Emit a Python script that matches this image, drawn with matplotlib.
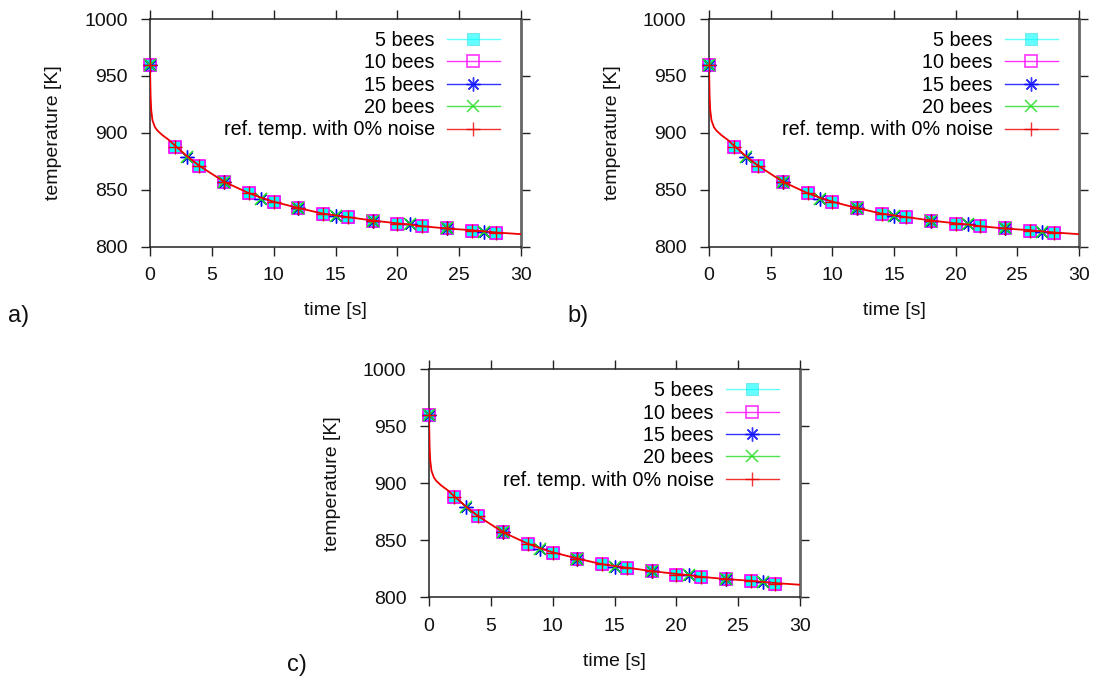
import matplotlib
matplotlib.use("Agg")
import matplotlib.pyplot as plt
from matplotlib.lines import Line2D

plt.rcParams['font.family'] = ['Liberation Sans', 'DejaVu Sans']

# ---- data ----
t_even = [0, 2, 4, 6, 8, 10, 12, 14, 16, 18, 20, 22, 24, 26, 28]
T_even = [960, 888, 871, 857, 847, 839, 834, 829, 826, 823, 820, 818, 816, 814, 812]

t_three = [0, 3, 6, 9, 12, 15, 18, 21, 24, 27]
T_three = [960, 879, 857, 842, 834, 827, 823, 819.5, 816, 813]

bees5_t, bees5_T = t_even, T_even
bees10_t, bees10_T = t_even, T_even
bees15_t, bees15_T = t_three, T_three
bees20_t, bees20_T = t_three, T_three
ref_mark_t, ref_mark_T = t_even, T_even

ref_t = [0, 0.02, 0.05, 0.1, 0.2, 0.4, 0.6, 1.0, 1.5, 2, 3, 4, 5, 6, 7, 8, 9, 10,
         12, 14, 15, 16, 18, 20, 21, 22, 24, 26, 27, 28, 30]
ref_T = [960, 948, 932, 920, 911, 905, 902, 898, 894, 889, 879.5, 871, 864, 857,
         852, 847, 843, 839.5, 834, 829, 827.5, 826, 823, 820.5, 819.5, 818, 816,
         814.5, 813.5, 812.5, 811]

labels = ["5 bees", "10 bees", "15 bees", "20 bees", "ref. temp. with 0% noise"]
panel_tags = ["a)", "b)", "c)"]
xticks = [0, 5, 10, 15, 20, 25, 30]
yticks = [800, 850, 900, 950, 1000]

# ---- styles ----
c5, c10, c15, c20, cref = '#00ffff', '#ff00ff', '#0000ff', '#22dd22', '#ee0000'
st5 = dict(marker='s', ms=8.0, mfc=c5, mec='#44dddd', mew=0.8)
st10 = dict(marker='s', ms=8.8, mfc='none', mec=c10, mew=1.2)
st15 = dict(marker=(8, 2, 0), ms=10, mec=c15, mew=1.0)
st20 = dict(marker='x', ms=8, mec=c20, mew=1.2)
stref = dict(marker='+', ms=10, mec=cref, mew=1.0)

W, H = 1099, 682
fig = plt.figure(figsize=(W / 100, H / 100), dpi=100)

panels = [  # left, right, top, bottom in pixels
    (150, 521, 19, 246.7),
    (709, 1079, 19, 246.7),
    (429, 800, 369.3, 597.3),
]
tag_pos = [(8, 316), (567, 316), (287, 665)]

for (l, r, tp, bt), tag, (tx, ty) in zip(panels, panel_tags, tag_pos):
    w, h = r - l, bt - tp
    ax = fig.add_axes([l / W, (H - bt) / H, w / W, h / H])
    ax.plot(bees5_t, bees5_T, ls='none', **st5, zorder=3, clip_on=False)
    ax.plot(bees10_t, bees10_T, ls='none', **st10, zorder=4, clip_on=False)
    ax.plot(bees15_t, bees15_T, ls='none', **st15, zorder=5, clip_on=False)
    ax.plot(bees20_t, bees20_T, ls='none', **st20, zorder=6, clip_on=False)
    ax.plot(ref_t, ref_T, color=cref, lw=1.3, zorder=7)
    ax.plot(ref_mark_t, ref_mark_T, ls='none', **stref, zorder=8, clip_on=False)

    ax.set_xlim(0, 30)
    ax.set_ylim(800, 1000)
    ax.set_xticks(xticks)
    ax.set_yticks(yticks)
    ax.tick_params(direction='out', length=6.7, width=1.0, colors='#222222',
                   labelcolor='#111111', labelsize=14, top=True, right=True)
    ax.tick_params(axis='x', pad=8)
    ax.tick_params(axis='y', pad=9.5)
    for s in ['left', 'bottom', 'top']:
        ax.spines[s].set_color('#222222')
        ax.spines[s].set_linewidth(1.1)
    ax.spines['right'].set_color('#666666')
    ax.spines['right'].set_linewidth(2.0)

    ax.set_xlabel("time [s]", fontsize=14, color='#111111', va='top')
    ax.xaxis.set_label_coords(0.5, -(302 - 246.7) / h)
    ax.set_ylabel("temperature [K]", fontsize=14, color='#111111')
    ax.yaxis.set_label_coords(-88 / w, 0.5)

    handles = [
        Line2D([], [], color=c5, lw=1.0, alpha=0.6, **st5),
        Line2D([], [], color=c10, lw=1.0, alpha=0.8, **st10),
        Line2D([], [], color=c15, lw=1.0, alpha=0.8, **st15),
        Line2D([], [], color=c20, lw=1.0, alpha=0.8, **st20),
        Line2D([], [], color=cref, lw=1.0, alpha=0.8, **stref),
    ]
    ax.legend(handles, labels, loc='upper right',
              bbox_to_anchor=((w - 21) / w, 1 - 12 / h),
              markerfirst=False, frameon=False, fontsize=14.2,
              handlelength=2.7, handletextpad=0.6, labelspacing=0.17,
              borderpad=0, borderaxespad=0)

    fig.text(tx / W, 1 - ty / H, tag, fontsize=17, va='center', ha='left', color='#111111')

fig.savefig("out.png", dpi=100)
